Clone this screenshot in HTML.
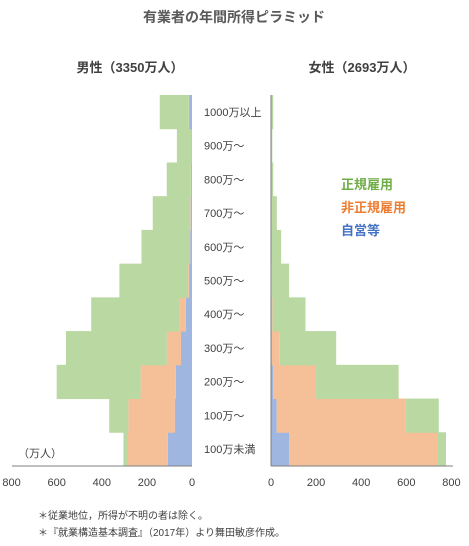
<!DOCTYPE html>
<html><head><meta charset="utf-8">
<style>
html,body{margin:0;padding:0;background:#fff;}
svg{display:block;font-family:"Liberation Sans","Noto Sans CJK JP",sans-serif;}
</style></head>
<body>
<svg id="chart" width="469" height="546" viewBox="0 0 469 546">
<text x="234" y="22" text-anchor="middle" font-size="14" font-weight="bold" fill="#595959">有業者の年間所得ピラミッド</text>
<text x="130" y="72" text-anchor="middle" font-size="13" font-weight="bold" fill="#404040">男性（3350万人）</text>
<text x="362" y="72" text-anchor="middle" font-size="13" font-weight="bold" fill="#404040">女性（2693万人）</text>
<g id="bars"></g>
<g id="labels"></g>
<line x1="12" y1="466" x2="192" y2="466" stroke="#7f7f7f"/>
<line x1="271" y1="466" x2="453" y2="466" stroke="#7f7f7f"/>
<line x1="271" y1="95" x2="271" y2="466" stroke="#7f7f7f"/>
<text x="18" y="457" font-size="11" fill="#404040">（万人）</text>
<text x="341" y="189" font-size="13" font-weight="bold" fill="#70ad47">正規雇用</text>
<text x="341" y="212" font-size="13" font-weight="bold" fill="#ed7d31">非正規雇用</text>
<text x="341" y="235" font-size="13" font-weight="bold" fill="#4472c4">自営等</text>
<text x="38" y="519" font-size="10" fill="#404040">＊従業地位，所得が不明の者は除く。</text>
<text x="38" y="536" font-size="10" fill="#404040">＊『就業構造基本調査』（2017年）より舞田敏彦作成。</text>
</svg>
<script>
const categories = ["100万未満","100万〜","200万〜","300万〜","400万〜","500万〜","600万〜","700万〜","800万〜","900万〜","1000万以上"];
const maleSelf = [107,76,72,49,27,13,8,6,4,3,13];
const maleNonreg = [179,206,156,63,27,4,3,2,1,1,1];
const maleRegular = [18,85,372,447,393,305,213,166,107,63,129];
const femaleSelf = [80,25,10,4,2,1,1,1,0,0,1];
const femaleNonreg = [658,570,190,35,5,2,1,1,1,1,1];
const femaleRegular = [38,149,366,250,146,77,43,24,9,5,8];
const xTicks = [800,600,400,200,0];
const rightTicks = [0,200,400,600,800];

const NS = "http://www.w3.org/2000/svg";
const bars = document.getElementById("bars");
const labels = document.getElementById("labels");
const yBottom = 466, yTop = 95;
const rowH = (yBottom - yTop) / categories.length;
const leftZero = 192, rightZero = 271, scale = 0.2255;
const xL = v => leftZero - v * scale;
const xR = v => rightZero + v * scale;
const yRow = i => yBottom - (i + 1) * rowH;
const colors = ["#9fb6e0","#f5bf98","#bad8a2"];

function rect(x, y, w, h, fill) {
  const r = document.createElementNS(NS, "rect");
  r.setAttribute("x", x); r.setAttribute("y", y);
  r.setAttribute("width", Math.max(0, w)); r.setAttribute("height", h);
  r.setAttribute("fill", fill);
  bars.appendChild(r);
  return r;
}
const segNames = ["self-employed","nonregular","regular"];
categories.forEach((c, i) => {
  const y = yRow(i);
  const m = [maleSelf[i], maleNonreg[i], maleRegular[i]];
  let cum = 0;
  m.forEach((v, k) => {
    const r = rect(xL(cum + v), y, xL(cum) - xL(cum + v), rowH + 0.5, colors[k]);
    
    
    cum += v;
  });
  const f = [femaleSelf[i], femaleNonreg[i], femaleRegular[i]];
  cum = 0;
  f.forEach((v, k) => {
    const r = rect(xR(cum), y, xR(cum + v) - xR(cum), rowH + 0.5, colors[k]);
    
    
    cum += v;
  });
  const t = document.createElementNS(NS, "text");
  t.setAttribute("x", 204); t.setAttribute("y", y + rowH / 2 + 4);
  t.setAttribute("font-size", "11"); t.setAttribute("fill", "#404040");
  t.textContent = c;
  
  
  labels.appendChild(t);
});
xTicks.forEach(v => {
  const t = document.createElementNS(NS, "text");
  t.setAttribute("x", xL(v)); t.setAttribute("y", 486);
  t.setAttribute("text-anchor", "middle"); t.setAttribute("font-size", "11"); t.setAttribute("fill", "#404040");
  t.textContent = v;
  
  
  labels.appendChild(t);
});
rightTicks.forEach(v => {
  const t = document.createElementNS(NS, "text");
  t.setAttribute("x", xR(v)); t.setAttribute("y", 486);
  t.setAttribute("text-anchor", "middle"); t.setAttribute("font-size", "11"); t.setAttribute("fill", "#404040");
  t.textContent = v;
  
  
  labels.appendChild(t);
});
</script>
</body></html>
